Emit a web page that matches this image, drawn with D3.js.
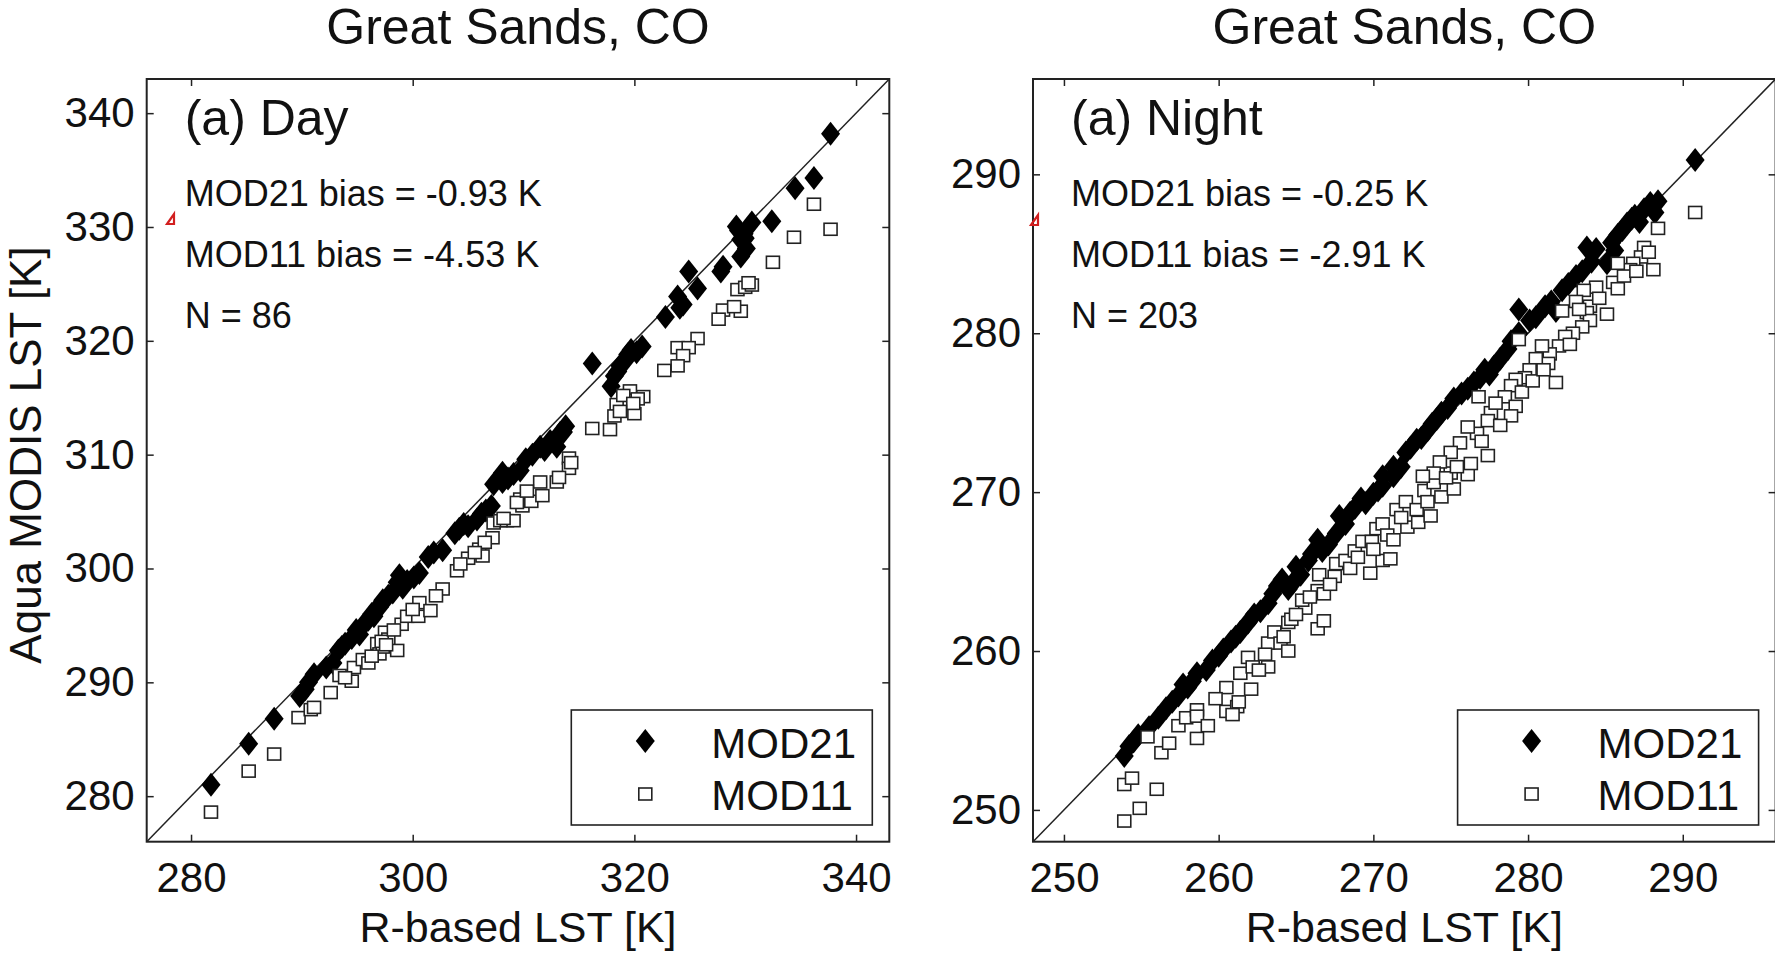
<!DOCTYPE html>
<html>
<head>
<meta charset="utf-8">
<script src="https://cdn.jsdelivr.net/npm/d3@7"></script>
<style>
  html, body { margin: 0; padding: 0; background: #fff; }
  svg { display: block; }
  text { font-family: "Liberation Sans", Arial, Helvetica, sans-serif; fill: #111; }
</style>
</head>
<body>
<div id="chart"></div>
<script>
// R-based LST vs Aqua MODIS LST, Great Sands, CO

const dayDomain = [276, 343];
const nightDomain = [248, 296];
const dayXTicks = [280, 300, 320, 340];
const dayYTicks = [280, 290, 300, 310, 320, 330, 340];
const nightTicks = [250, 260, 270, 280, 290];

const seriesNames = ["MOD21", "MOD11"];
const dayStats = ["MOD21 bias = -0.93 K", "MOD11 bias = -4.53 K", "N = 86"];
const nightStats = ["MOD21 bias = -0.25 K", "MOD11 bias = -2.91 K", "N = 203"];

// [R-based LST, MODIS LST]
const dayMod21 = [
  [281.8,281.0],[285.2,284.6],[287.5,286.8],[289.8,288.8],[290.3,289.4],[291.1,290.7],[292.8,291.7],[293.3,292.8],
  [293.9,293.4],[294.5,293.9],[295.5,295.0],[296.0,295.5],[296.7,296.4],[297.3,297.2],[297.8,297.6],[298.6,298.8],
  [299.1,298.3],[298.8,299.4],[300.6,299.6],[301.9,301.4],[302.7,301.6],[304.2,303.5],[305.0,303.7],[305.8,304.3],
  [306.6,305.1],[307.1,305.5],[307.3,307.4],[308.1,307.6],[309.1,308.3],[309.7,308.6],
  [310.2,309.6],[308.1,308.4],[311.5,310.7],[313.0,310.7],[313.3,311.9],[313.8,312.5],[316.2,318.0],[317.9,316.0],
  [318.2,316.9],[318.7,317.8],[319.2,318.3],[319.7,319.2],[320.7,319.5],[322.8,322.1],[324.1,322.9],[323.9,323.9],
  [325.7,324.6],[324.9,326.1],[327.8,326.1],[329.6,327.4],[330.1,328.1],[329.6,328.9],[329.2,330.05],[330.6,330.4],
  [332.4,330.5],[334.5,333.4],[336.2,334.3],[337.7,338.2],
  [290.6,290.0],[292.2,291.3],[294.9,294.6],[295.2,294.2],[296.3,296.0],[297.0,296.6],[298.2,297.9],[299.5,298.9],
  [301.4,301.0],[303.8,303.1],[304.6,303.9],[306.2,304.8],[310.8,310.0],[312.4,311.2],[319.4,318.8],[320.2,319.0],
  [329.9,329.4],[329.4,329.7],[330.0,329.0],[311.9,310.4],[318.5,317.3],[324.4,323.2],[308.6,307.9],[300.1,299.2],
  [296.5,295.8],[293.6,293.1],[313.6,312.0],[328.0,326.5]
];

const dayMod11 = [
  [281.8,278.6],[285.2,282.2],[287.5,283.7],[289.7,286.9],[290.8,287.6],[291.1,287.8],[292.6,289.1],[293.4,290.6],
  [294.5,290.1],[294.7,291.3],[295.5,292.0],[296.0,291.7],[296.8,293.4],[297.0,292.5],[297.3,293.1],[297.5,294.4],
  [297.8,293.8],[298.6,292.8],[299.0,295.1],[299.5,295.8],[300.5,295.8],[300.6,297.0],[301.6,296.3],[302.7,298.2],
  [304.0,299.8],[305.0,300.9],[306.0,301.7],[306.3,301.1],[307.2,302.7],[307.3,304.0],[307.9,304.2],[308.5,304.2],
  [309.1,304.2],[309.7,306.1],[309.9,305.5],[310.7,305.9],[311.5,307.6],[311.7,306.4],[313.0,307.6],
  [336.2,332.0],[337.7,329.8],[334.4,329.1],[332.5,326.9],[329.3,324.5],[330.0,324.7],[330.6,324.9],[328.0,322.7],
  [329.6,322.6],[327.6,321.9],[325.7,320.2],[323.9,319.4],[324.9,319.4],[324.4,318.7],[323.9,317.8],[322.7,317.4],
  [320.8,315.1],[319.6,315.6],[319.5,314.8],[320.3,314.9],[318.4,314.4],[318.2,313.4],[320.0,313.6],[317.8,312.2],
  [316.2,312.3],[314.1,309.7],[314.1,308.8],
  [297.2,293.6],[297.6,293.3],[293.9,290.4],[296.3,292.3],[300.0,296.4],[304.3,300.4],[306.5,302.3],[308.2,304.4],
  [309.4,305.8],[310.3,306.8],[314.3,309.3],[319.0,315.2],[319.9,314.5],[330.3,325.1],[329.0,323.0],[298.3,294.6],
  [302.1,297.6],[305.6,301.4],[313.2,308.0],[318.7,313.8]
];

const nightMod21 = [
  [253.9,253.4],[254.2,254.0],[254.8,254.7],[256.1,255.8],[257.4,257.2],[258.0,257.7],[258.6,258.6],[259.2,258.8],
  [260.3,260.1],[260.8,260.6],[261.4,261.2],[261.9,261.8],[263.2,263.0],[263.8,264.1],[264.5,263.9],[265.3,264.8],
  [265.8,265.7],[266.4,267.0],[267.1,266.7],[267.6,267.4],[267.8,268.5],[268.8,269.0],[269.5,269.3],[270.0,269.9],
  [270.6,270.4],[271.3,271.0],
  [270.6,271.0],[271.3,271.6],[272.1,272.5],[272.8,273.3],[273.5,273.9],[274.4,275.0],[275.2,275.9],[275.7,276.2],
  [276.5,276.9],[277.2,277.7],[277.8,277.9],[278.7,279.0],[279.4,280.0],[280.1,280.8],[279.4,281.5],[281.1,281.7],
  [282.2,282.7],[283.1,283.6],[285.1,284.4],[284.4,285.3],[283.8,285.4],[285.8,286.2],[286.4,286.9],[286.9,287.4],
  [287.5,287.8],[288.4,288.3],[290.8,290.9],
  [254.5,254.3],[255.5,255.2],[256.6,256.4],[257.0,256.8],[257.7,257.9],[258.3,258.1],[259.6,259.4],[260.0,259.7],
  [261.1,260.9],[262.3,262.3],[262.7,262.5],[263.5,263.6],[264.1,264.5],[264.8,264.3],[265.0,265.3],[266.0,266.1],
  [266.7,266.3],[268.2,268.0],[268.5,268.7],[269.2,269.6],[270.3,270.1],[271.8,271.6],[272.4,272.8],[273.1,273.4],
  [273.8,274.3],[274.1,274.6],[274.8,275.3],[276.1,276.5],[276.9,277.2],[277.5,277.4],[278.2,278.4],[278.9,279.5],
  [280.5,281.0],[281.5,282.0],[281.8,281.4],[282.6,283.1],[283.5,283.9],[284.1,284.5],[285.4,285.7],[286.1,286.5],
  [286.7,287.2],[287.2,287.0],[287.9,288.2],[288.2,287.6],[285.6,285.2]
];

const nightMod11 = [
  [253.9,251.6],[254.4,252.0],[253.9,249.3],[254.9,250.1],[256.0,251.3],[256.3,253.6],[257.4,255.3],[257.9,255.8],
  [258.6,256.3],[258.6,255.9],[258.6,254.5],[259.3,255.3],[260.5,256.2],[260.5,257.7],[261.2,256.5],[261.3,256.8],
  [261.4,258.6],[262.1,257.6],[261.9,259.6],[262.2,259.0],[263.2,260.5],[263.2,259.0],[263.6,261.2],[264.0,260.5],
  [264.2,260.9],[264.5,260.0],[264.5,261.8],[264.7,262.0],[265.6,262.7],[265.4,263.2],[266.4,263.8],[266.8,263.6],
  [266.4,261.4],[266.8,261.9],[266.5,264.8],[267.5,264.7],[267.6,265.5],[268.2,265.7],[268.8,266.3],[269.8,264.9],
  [269.3,266.9],[269.9,266.9],[270.2,267.7],[270.6,268.0],[270.6,265.7],[271.1,265.8],[270.9,267.3],[271.5,268.9],
  [272.1,269.4],[272.2,267.8],[272.9,268.1],[272.8,268.9],[273.7,268.5],[273.3,270.1],[274.4,269.7],[275.2,270.2],
  [273.9,270.6],[276.1,271.1],
  [290.8,287.6],[288.4,286.6],[287.5,285.4],[287.3,284.8],[286.8,284.4],[288.1,284.0],[286.6,284.0],[285.8,284.4],
  [285.5,283.2],[285.1,281.2],[284.4,282.9],[283.6,282.7],[284.0,281.7],[283.8,281.3],[283.1,282.0],[284.0,280.8],
  [283.5,280.4],[282.9,280.0],[282.2,281.4],[282.4,279.8],[282.0,279.2],[281.4,278.7],[280.9,279.2],[281.3,278.1],
  [280.5,278.4],[281.8,276.9],[280.1,277.7],[279.8,277.2],[279.2,277.1],[279.4,279.6],[278.9,276.7],[278.5,276.0],
  [279.2,275.4],[278.9,274.8],[277.6,275.0],[276.8,276.0],[277.4,274.5],[276.7,273.7],[276.1,274.1],[275.6,273.1],
  [277.4,272.3],[276.3,271.8],[275.0,272.5],[275.0,271.2],[274.3,271.9],[273.9,271.2],[273.2,271.0],
  [255.4,254.6],[256.8,254.2],[259.8,257.0],[260.9,256.0],[262.6,258.8],[263.0,259.8],[265.0,262.3],[265.9,263.4],
  [267.2,264.2],[268.5,265.2],[269.0,265.9],[270.0,266.4],[271.3,267.0],[271.8,268.4],[273.5,269.4],[274.7,270.9],
  [275.4,271.6],[277.0,273.2],[277.9,275.6],[278.2,274.2],[279.6,276.3],[280.3,277.0],[281.0,277.7],[282.7,279.3],
  [283.3,281.5],[284.6,282.2],[285.8,282.8],[286.2,283.6],[287.0,283.9],[287.8,285.1]
];

const width = 1775;
const height = 954;
const plotTop = 79, plotBottom = 841.7;
const ink = "#222";

const svg = d3.select("#chart").append("svg")
  .attr("width", width)
  .attr("height", height);

const diamond = "M0,-12L9.5,0L0,12L-9.5,0Z";

function drawPanel(opt) {
  const x = d3.scaleLinear().domain(opt.domain).range([opt.left, opt.right]);
  const y = d3.scaleLinear().domain(opt.domain).range([plotBottom, plotTop]);
  const g = svg.append("g");

  // 1:1 line
  g.append("line")
    .attr("x1", x(opt.domain[0])).attr("y1", y(opt.domain[0]))
    .attr("x2", x(opt.domain[1])).attr("y2", y(opt.domain[1]))
    .attr("stroke", ink).attr("stroke-width", 1.5);

  g.append("g").selectAll("path")
    .data(opt.mod21)
    .enter().append("path")
    .attr("d", diamond)
    .attr("transform", d => `translate(${x(d[0])},${y(d[1])})`)
    .attr("fill", "#000");

  g.append("g").selectAll("rect")
    .data(opt.mod11)
    .enter().append("rect")
    .attr("x", d => x(d[0]) - 6.5)
    .attr("y", d => y(d[1]) - 6)
    .attr("width", 13).attr("height", 12)
    .attr("fill", "#fff")
    .attr("stroke", ink).attr("stroke-width", 1.6);

  // axes, ticks pointing inside
  const axes = [
    g.append("g").attr("transform", `translate(0,${plotBottom})`)
      .call(d3.axisBottom(x).tickValues(opt.xTicks).tickSizeInner(-7).tickSizeOuter(0).tickPadding(20)),
    g.append("g").attr("transform", `translate(${opt.left},0)`)
      .call(d3.axisLeft(y).tickValues(opt.yTicks).tickSizeInner(-7).tickSizeOuter(0).tickPadding(12)),
    g.append("g").attr("transform", `translate(0,${plotTop})`)
      .call(d3.axisTop(x).tickValues(opt.xTicks).tickSizeInner(-7).tickSizeOuter(0).tickFormat("")),
    g.append("g").attr("transform", `translate(${opt.right},0)`)
      .call(d3.axisRight(y).tickValues(opt.yTicks).tickSizeInner(-7).tickSizeOuter(0).tickFormat(""))
  ];
  axes.forEach(a => {
    a.select(".domain").remove();
    a.selectAll("line").attr("stroke", ink).attr("stroke-width", 1.5);
    a.selectAll("text").attr("font-size", 42).attr("fill", "#111")
      .attr("font-family", "'Liberation Sans', Arial, sans-serif");
  });

  g.append("rect")
    .attr("x", opt.left).attr("y", plotTop)
    .attr("width", opt.right - opt.left).attr("height", plotBottom - plotTop)
    .attr("fill", "none").attr("stroke", ink).attr("stroke-width", 2);

  const cx = (opt.left + opt.right) / 2;
  g.append("text").attr("x", cx).attr("y", 44)
    .attr("text-anchor", "middle").attr("font-size", 50)
    .text("Great Sands, CO");
  g.append("text").attr("x", cx).attr("y", 942)
    .attr("text-anchor", "middle").attr("font-size", 43)
    .text("R-based LST [K]");

  g.append("text").attr("x", opt.left + 38).attr("y", 135)
    .attr("font-size", 50).text(opt.label);
  g.selectAll(".stat").data(opt.stats).enter().append("text")
    .attr("class", "stat")
    .attr("x", opt.left + 38)
    .attr("y", (d, i) => 206 + i * 61)
    .attr("font-size", 36)
    .text(d => d);

  // legend
  const lx = opt.right - 318, ly = 710;
  const lg = g.append("g").attr("transform", `translate(${lx},${ly})`);
  lg.append("rect").attr("width", 301).attr("height", 115)
    .attr("fill", "#fff").attr("stroke", ink).attr("stroke-width", 1.6);
  lg.append("path").attr("d", diamond).attr("transform", "translate(74,31)").attr("fill", "#000");
  lg.append("rect").attr("x", 67.5).attr("y", 78).attr("width", 13).attr("height", 12)
    .attr("fill", "#fff").attr("stroke", ink).attr("stroke-width", 1.6);
  lg.selectAll(".lt").data(seriesNames).enter().append("text")
    .attr("class", "lt")
    .attr("x", 140).attr("y", (d, i) => 48 + i * 52)
    .attr("font-size", 42).text(d => d);

  // small red mark left of the axis
  g.append("path")
    .attr("d", `M${opt.markX},${opt.markY + 10}L${opt.markX + 7},${opt.markY}L${opt.markX + 7},${opt.markY + 10}Z`)
    .attr("fill", "none").attr("stroke", "#d21f1f").attr("stroke-width", 2.2);
}

drawPanel({
  domain: dayDomain, left: 146.7, right: 889.3,
  xTicks: dayXTicks, yTicks: dayYTicks,
  mod21: dayMod21, mod11: dayMod11,
  label: "(a) Day", stats: dayStats, markX: 167, markY: 214
});

drawPanel({
  domain: nightDomain, left: 1033, right: 1775.6,
  xTicks: nightTicks, yTicks: nightTicks,
  mod21: nightMod21, mod11: nightMod11,
  label: "(a) Night", stats: nightStats, markX: 1031, markY: 215
});

svg.append("text")
  .attr("transform", "translate(41,455) rotate(-90)")
  .attr("text-anchor", "middle").attr("font-size", 44)
  .text("Aqua MODIS LST [K]");
</script>
</body>
</html>
